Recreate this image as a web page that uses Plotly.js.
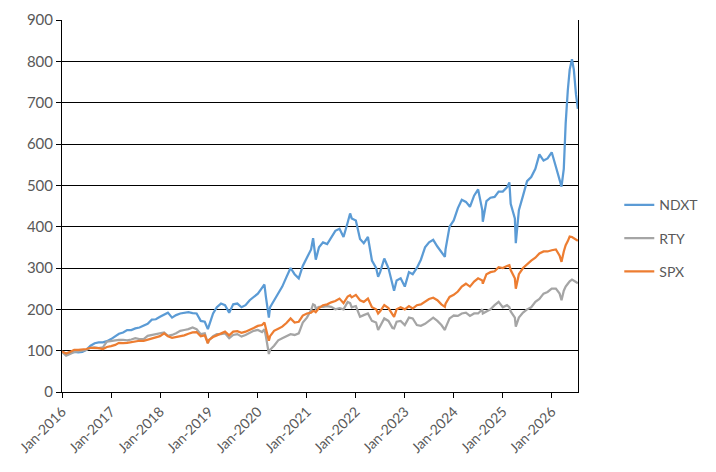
<!DOCTYPE html>
<html>
<head>
<meta charset="utf-8">
<script src="https://cdn.plot.ly/plotly-3.0.1.min.js"></script>
<style>
  html, body { margin: 0; padding: 0; background: #fff; }
  #chart { width: 716px; height: 472px; }
</style>
</head>
<body>
<div id="chart"></div>
<script>
// index levels, one row per year (month starts plus a few turning points)
var dates = [
  '2016-01-01','2016-02-01','2016-03-01','2016-04-01','2016-05-01','2016-06-01','2016-07-01','2016-08-01','2016-09-01','2016-10-01','2016-11-01','2016-12-01',
  '2017-01-01','2017-02-01','2017-03-01','2017-04-01','2017-05-01','2017-06-01','2017-07-01','2017-08-01','2017-09-01','2017-10-01','2017-11-01','2017-12-01',
  '2018-01-01','2018-02-01','2018-03-01','2018-04-01','2018-05-01','2018-06-01','2018-07-01','2018-08-01','2018-09-01','2018-10-01','2018-11-01','2018-12-01','2018-12-24',
  '2019-01-01','2019-02-01','2019-03-01','2019-04-01','2019-05-01','2019-06-01','2019-07-01','2019-08-01','2019-09-01','2019-10-01','2019-11-01','2019-12-01',
  '2020-01-01','2020-02-01','2020-02-19','2020-03-01','2020-03-23','2020-04-01','2020-05-01','2020-06-01','2020-07-01','2020-08-01','2020-09-01','2020-10-01','2020-11-01','2020-12-01',
  '2021-01-01','2021-02-01','2021-02-16','2021-03-01','2021-03-08','2021-04-01','2021-05-01','2021-06-01','2021-07-01','2021-08-01','2021-09-01','2021-10-01','2021-11-01','2021-11-19','2021-12-01',
  '2022-01-01','2022-02-01','2022-03-01','2022-04-01','2022-05-01','2022-06-01','2022-06-16','2022-07-01','2022-08-01','2022-09-01','2022-10-01','2022-10-13','2022-11-01','2022-12-01',
  '2023-01-01','2023-02-01','2023-03-01','2023-04-01','2023-05-01','2023-06-01','2023-07-01','2023-08-01','2023-09-01','2023-10-01','2023-10-27','2023-11-01','2023-12-01',
  '2024-01-01','2024-02-01','2024-03-01','2024-04-01','2024-05-01','2024-06-01','2024-07-01','2024-08-01','2024-08-05','2024-09-01','2024-10-01','2024-11-01','2024-12-01',
  '2025-01-01','2025-02-01','2025-02-19','2025-03-01','2025-04-01','2025-04-08','2025-05-01','2025-06-01','2025-07-01','2025-08-01','2025-09-01','2025-10-01','2025-11-01','2025-12-01',
  '2026-01-01','2026-02-01','2026-03-01','2026-03-15','2026-04-01','2026-04-15','2026-05-01','2026-05-15','2026-06-01','2026-06-15','2026-07-01','2026-07-15'
];

var ndxt = [
  98, 91, 95, 97, 96, 97, 102, 112, 118, 120, 120, 123,
  128, 135, 141, 144, 150, 150, 154, 156, 160, 165, 175, 176,
  182, 188, 192, 180, 186, 190, 192, 193, 191, 190, 172, 170, 152,
  160, 190, 205, 214, 210, 192, 212, 214, 205, 210, 222, 230,
  238, 252, 260, 230, 180, 205, 222, 240, 255, 278, 300, 285, 275, 305,
  325, 345, 372, 340, 320, 350, 362, 358, 375, 390, 395, 375, 410, 432, 420,
  415, 370, 360, 375, 318, 300, 279, 290, 323, 300, 260, 245, 270, 275,
  255, 290, 285, 300, 320, 350, 362, 368, 352, 340, 327, 345, 400,
  415, 445, 465, 460, 448, 475, 490, 440, 412, 462, 470, 472, 485,
  485, 495, 507, 455, 420, 360, 440, 475, 510, 520, 540, 575, 560, 565,
  580, 545, 515, 497, 540, 650, 730, 780, 805, 780, 720, 685
];

var rty = [
  97, 88, 92, 97, 98, 100, 102, 107, 108, 106, 108, 122,
  124, 125, 126, 126, 125, 127, 130, 128, 128, 136, 138, 140,
  142, 144, 136, 138, 142, 148, 150, 152, 156, 152, 140, 142, 118,
  125, 135, 140, 140, 142, 130, 138, 140, 134, 138, 143, 148,
  150, 145, 152, 135, 92, 102, 112, 125, 130, 136, 140, 138, 142, 168,
  180, 198, 212, 210, 202, 206, 206, 208, 206, 200, 203, 200, 218, 215, 205,
  208, 182, 186, 190, 172, 168, 150, 160, 178, 172, 155, 154, 170, 172,
  162, 180, 178, 162, 160, 165, 172, 180, 172, 162, 150, 155, 178,
  185, 184, 190, 192, 184, 190, 190, 200, 190, 195, 200, 210, 218,
  205, 210, 205, 195, 180, 158, 180, 192, 200, 205, 218, 225, 238, 242,
  250, 250, 238, 222, 245, 255, 262, 268, 272, 270, 266, 263
];

var spx = [
  98, 93, 97, 102, 102, 103, 104, 107, 107, 106, 104, 109,
  111, 114, 119, 118, 119, 121, 122, 124, 124, 127, 130, 133,
  135, 142, 135, 131, 133, 136, 137, 141, 144, 145, 135, 137, 118,
  126, 133, 137, 141, 146, 137, 146, 147, 143, 146, 150, 155,
  160, 162, 168, 152, 124, 135, 148, 153, 158, 167, 178, 168, 170, 185,
  190, 192, 196, 195, 193, 203, 210, 212, 217, 220, 226, 215, 231, 234, 229,
  235, 222, 218, 226, 205, 200, 190, 195, 210, 203, 188, 182, 200, 205,
  200, 208, 202, 210, 212, 218, 225, 228, 222, 212, 206, 214, 230,
  235, 243, 255, 262, 255, 267, 275, 270, 262, 285, 290, 292, 302,
  300, 305, 307, 295, 275, 250, 285, 300, 310, 318, 325, 335, 340, 340,
  343, 345, 330, 315, 340, 355, 365, 376, 375, 372, 368, 366
];

var tickDates = ['2016-01-01','2017-01-01','2018-01-01','2019-01-01','2020-01-01','2021-01-01',
                 '2022-01-01','2023-01-01','2024-01-01','2025-01-01','2026-01-01'];
var tickLabels = ['Jan-2016','Jan-2017','Jan-2018','Jan-2019','Jan-2020','Jan-2021',
                  'Jan-2022','Jan-2023','Jan-2024','Jan-2025','Jan-2026'];

var textColor = '#595959';

function series(name, y, color, group) {
  return {
    x: dates,
    y: y,
    name: name,
    legendgroup: group,
    mode: 'lines',
    type: 'scatter',
    line: {color: color, width: 2.25},
    hoverinfo: 'skip'
  };
}

var data = [
  series('NDXT', ndxt, '#5B9BD5', 'a'),
  series('RTY', rty, '#A5A5A5', 'b'),
  series('SPX', spx, '#ED7D31', 'c')
];

var layout = {
  width: 716,
  height: 472,
  margin: {l: 62, r: 138, t: 20, b: 80},
  paper_bgcolor: '#ffffff',
  plot_bgcolor: '#ffffff',
  font: {family: 'Lato, "Open Sans", sans-serif', size: 14, color: textColor},
  showlegend: true,
  legend: {
    x: 1.08, xanchor: 'left',
    y: 0.545, yanchor: 'top',
    tracegroupgap: 12,
    font: {size: 14, color: textColor},
    bgcolor: 'rgba(0,0,0,0)'
  },
  xaxis: {
    type: 'date',
    range: ['2016-01-01', '2026-07-16'],
    tickvals: tickDates,
    ticktext: tickLabels,
    tickangle: -45,
    ticks: 'outside',
    ticklen: 5,
    tickcolor: '#000',
    showgrid: false,
    showline: true,
    linecolor: '#000',
    linewidth: 1,
    zeroline: false,
    tickfont: {size: 14, color: textColor}
  },
  yaxis: {
    range: [0, 900],
    dtick: 100,
    ticks: 'outside',
    ticklen: 5,
    tickcolor: '#000',
    showgrid: true,
    gridcolor: '#000',
    gridwidth: 1,
    showline: true,
    mirror: true,
    linecolor: '#000',
    linewidth: 1,
    zeroline: false,
    tickfont: {size: 15, color: textColor}
  }
};

Plotly.newPlot('chart', data, layout, {staticPlot: true, displayModeBar: false});
</script>
</body>
</html>
